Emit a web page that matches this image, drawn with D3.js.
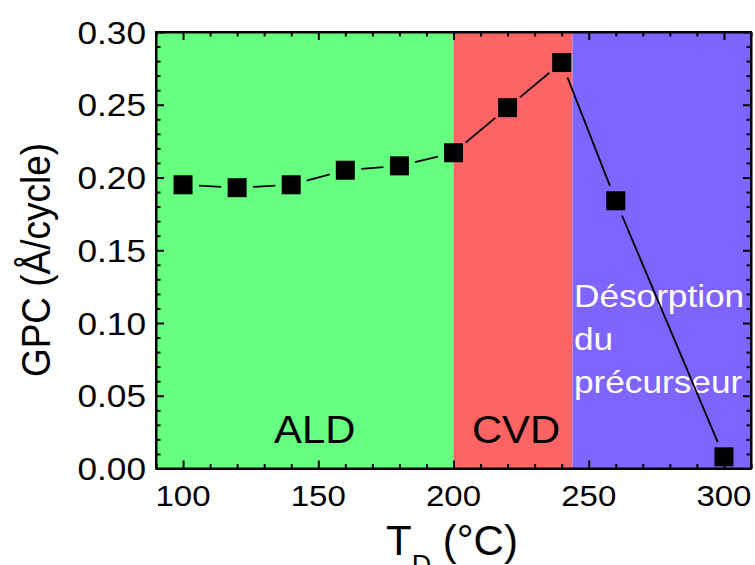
<!DOCTYPE html>
<html><head><meta charset="utf-8">
<script src="https://cdn.jsdelivr.net/npm/d3@7"></script>
<style>html,body{margin:0;padding:0;background:#fff;}svg{display:block;font-family:"Liberation Sans",Arial,sans-serif;}</style>
</head><body>
<svg id="c" width="755" height="565"></svg>
<script>
const temps = [100, 120, 140, 160, 180, 200, 220, 240, 260, 300];
const gpc = [0.195, 0.193, 0.195, 0.205, 0.208, 0.217, 0.248, 0.279, 0.184, 0.008];
const regionNames = ["ALD", "CVD", "Désorption du précurseur"];
const regionStart = [90, 200, 244];
const regionEnd = [200, 244, 310];
const regionColors = ["#66ff80", "#ff6464", "#8064ff"];
const xTicks = [100, 150, 200, 250, 300];
const yTicks = [0.00, 0.05, 0.10, 0.15, 0.20, 0.25, 0.30];

const svg = d3.select("#c");
const L = 156, R = 751, T = 32, B = 468.5;
const x = d3.scaleLinear().domain([90, 310]).range([L, R]);
const y = d3.scaleLinear().domain([0, 0.30]).range([B, T]);

// regions
svg.selectAll("rect.reg").data(regionStart).enter().append("rect")
  .attr("x", (d) => x(d)).attr("y", T)
  .attr("width", (d, i) => x(regionEnd[i]) - x(d)).attr("height", B - T)
  .attr("fill", (d, i) => regionColors[i]);

// region labels
const SX = 1.1;
function stretchedText(px, py, str, size, color, anchor) {
  const t = svg.append("text")
    .attr("transform", `translate(${px},${py}) scale(${SX},1)`)
    .attr("font-size", size).attr("fill", color).text(str);
  if (anchor) t.attr("text-anchor", anchor);
  return t;
}
stretchedText((x(regionStart[0]) + x(regionEnd[0])) / 2 + 10, 443, regionNames[0], 38, "#000", "middle");
stretchedText((x(regionStart[1]) + x(regionEnd[1])) / 2 + 3, 443, regionNames[1], 38, "#000", "middle");
const desc = regionNames[2].split(" ");
desc.forEach((w, i) => stretchedText(574, 307 + i * 43, w, 32, "#fff", null));

// line with gaps
const gap = 16;
const pts = temps.map((t, i) => [x(t), y(gpc[i])]);
for (let i = 0; i < pts.length - 1; i++) {
  const [x1, y1] = pts[i], [x2, y2] = pts[i + 1];
  const dx = x2 - x1, dy = y2 - y1, len = Math.hypot(dx, dy);
  const ux = dx / len, uy = dy / len;
  svg.append("line")
    .attr("x1", x1 + ux * gap).attr("y1", y1 + uy * gap)
    .attr("x2", x2 - ux * gap).attr("y2", y2 - uy * gap)
    .attr("stroke", "#000").attr("stroke-width", 1.8);
}

// markers
const ms = 19;
svg.selectAll("rect.m").data(temps).enter().append("rect")
  .attr("x", (d) => x(d) - ms / 2).attr("y", (d, i) => y(gpc[i]) - ms / 2)
  .attr("width", ms).attr("height", ms).attr("fill", "#000");

// axes (ticks inward on all sides)
const xMinor = d3.range(90, 311, 10);
const yMinor = d3.range(0, 0.3001, 0.01);
function isMajorX(v) { return Math.abs(v % 50) < 1e-6; }
function isMajorY(v) { return Math.abs(Math.round(v * 100) % 5) === 0; }
const axB = svg.append("g").attr("transform", `translate(0,${B})`)
  .call(d3.axisTop(x).tickValues(xMinor).tickSize(0).tickFormat(""));
axB.selectAll(".tick line").attr("y2", (d) => isMajorX(d) ? -8 : -4.5).attr("stroke-width", 2);
const axT = svg.append("g").attr("transform", `translate(0,${T})`)
  .call(d3.axisBottom(x).tickValues(xMinor).tickSize(0).tickFormat(""));
axT.selectAll(".tick line").attr("y2", (d) => isMajorX(d) ? 8 : 4.5).attr("stroke-width", 2);
const axL = svg.append("g").attr("transform", `translate(${L},0)`)
  .call(d3.axisRight(y).tickValues(yMinor).tickSize(0).tickFormat(""));
axL.selectAll(".tick line").attr("x2", (d) => isMajorY(d) ? 8 : 4.5).attr("stroke-width", 2);
const axR = svg.append("g").attr("transform", `translate(${R},0)`)
  .call(d3.axisLeft(y).tickValues(yMinor).tickSize(0).tickFormat(""));
axR.selectAll(".tick line").attr("x2", (d) => isMajorY(d) ? -8 : -4.5).attr("stroke-width", 2);
[axB, axT, axL, axR].forEach((a) => a.select(".domain").attr("stroke", "#000").attr("stroke-width", 2));
svg.append("rect").attr("x", L).attr("y", T).attr("width", R - L).attr("height", B - T)
  .attr("fill", "none").attr("stroke", "#000").attr("stroke-width", 2);

// tick labels
xTicks.forEach((v) => stretchedText(x(v), 506, d3.format("d")(v), 30, "#000", "middle"));
yTicks.forEach((v) => stretchedText(146, y(v) + 11.5, d3.format(".2f")(v), 32, "#000", "end"));

// axis titles
svg.append("text").attr("transform", `translate(50,260) rotate(-90) scale(1,1.1)`)
  .attr("text-anchor", "middle").attr("font-size", 37).text("GPC (Å/cycle)");
const xt = svg.append("text").attr("x", 386).attr("y", 555).attr("font-size", 42);
xt.append("tspan").text("T");
xt.append("tspan").attr("font-size", 27).attr("dy", 19).text("D");
xt.append("tspan").attr("dy", -19).text(" (°C)");
</script>
</body></html>
